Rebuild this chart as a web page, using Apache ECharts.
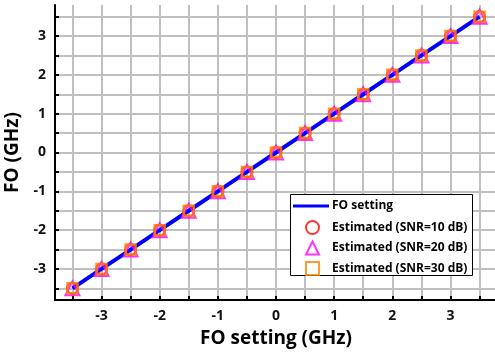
<!DOCTYPE html>
<html><head><meta charset="utf-8">
<script src="https://cdn.jsdelivr.net/npm/echarts@6/dist/echarts.min.js"></script>
<style>html,body{margin:0;padding:0;background:#fff}#c{width:495px;height:354px}</style>
</head><body><div id="c"></div>
<script>
const foSetting = [-3.5,-3,-2.5,-2,-1.5,-1,-0.5,0,0.5,1,1.5,2,2.5,3,3.5];
const estSNR10 = [-3.5,-3,-2.5,-2,-1.5,-1,-0.5,0,0.5,1,1.5,2,2.5,3,3.5];
const estSNR20 = [-3.5,-3,-2.5,-2,-1.5,-1,-0.5,0,0.5,1,1.5,2,2.5,3,3.5];
const estSNR30 = [-3.5,-3,-2.5,-2,-1.5,-1,-0.5,0,0.5,1,1.5,2,2.5,3,3.5];
const tickValues = [-3.5,-3,-2.5,-2,-1.5,-1,-0.5,0,0.5,1,1.5,2,2.5,3,3.5];
const labelValues = [-3,-2,-1,0,1,2,3];

const FONT = '"Open Sans"';
const pairs = arr => foSetting.map((x,i)=>[x,arr[i]]);
const chart = echarts.init(document.getElementById('c'), null, {renderer:'canvas'});
function axis(name, gap){
  return {
    type:'value', min:-3.8, max:3.8,
    name:name, nameLocation:'middle', nameGap:gap,
    nameTextStyle:{fontFamily:FONT,fontWeight:'bold',fontSize:19,color:'#000'},
    axisLine:{show:true,onZero:false,lineStyle:{color:'#000',width:2}},
    axisTick:{show:true,inside:true,length:4,customValues:tickValues,lineStyle:{color:'#000',width:2}},
    axisLabel:{customValues:labelValues,fontFamily:FONT,fontWeight:'bold',fontSize:14,color:'#111',margin:9},
    splitLine:{show:true,lineStyle:{color:'#c0c0c0',width:2}}
  };
}
const xA = axis('FO setting (GHz)', 29);
const yA = axis('FO (GHz)', 24);
chart.setOption({
  animation:false,
  grid:{left:55,top:5,right:-2,bottom:54,containLabel:false,outerBoundsMode:'none'},
  xAxis:xA, yAxis:yA,
  legend:[{
    data:[{name:'FO setting',icon:'rect'}],
    left:288, top:195, padding:5, itemWidth:36, itemHeight:3, itemGap:0,
    textStyle:{fontFamily:FONT,fontWeight:'bold',fontSize:12,color:'#000',padding:[0,0,0,-2]}
  },{
    data:[{name:'Estimated (SNR=10 dB)'},{name:'Estimated (SNR=20 dB)'},{name:'Estimated (SNR=30 dB)'}],
    orient:'vertical', left:300, top:215, padding:5, itemWidth:13, itemHeight:13, itemGap:5.5,
    textStyle:{fontFamily:FONT,fontWeight:'bold',fontSize:12,color:'#000',padding:[0,0,0,8]}
  }],
  graphic:[{type:'rect',shape:{x:290.5,y:194.5,width:182,height:81},style:{fill:'#fff',stroke:'#000',lineWidth:1},z:3}],
  series:[
    {name:'FO setting',type:'line',data:pairs(foSetting),showSymbol:false,symbol:'none',
     lineStyle:{color:'#0000ff',width:4},itemStyle:{color:'#0000ff'},z:2},
    {name:'Estimated (SNR=10 dB)',type:'scatter',data:pairs(estSNR10),symbol:'circle',symbolSize:11,
     itemStyle:{color:'rgba(0,0,0,0)',borderColor:'#ff0000',borderWidth:2},z:3},
    {name:'Estimated (SNR=20 dB)',type:'scatter',data:pairs(estSNR20),symbol:'triangle',symbolSize:14,
     itemStyle:{color:'rgba(0,0,0,0)',borderColor:'#ff00ff',borderWidth:2},z:4},
    {name:'Estimated (SNR=30 dB)',type:'scatter',data:pairs(estSNR30),symbol:'rect',symbolSize:10,
     itemStyle:{color:'rgba(0,0,0,0)',borderColor:'#ff7f00',borderWidth:2.5},z:5}
  ]
});
</script></body></html>
